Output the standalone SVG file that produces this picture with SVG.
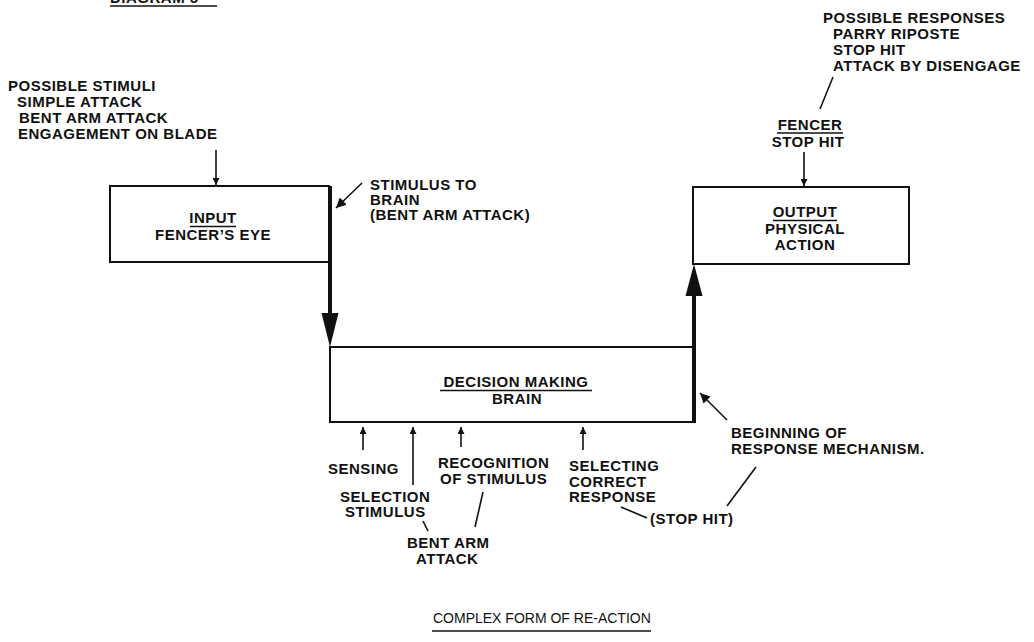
<svg xmlns="http://www.w3.org/2000/svg" width="1034" height="642" viewBox="0 0 1034 642">
<defs>
<style>
text{font-family:"Liberation Sans",Arial,sans-serif;font-weight:bold;font-size:15px;letter-spacing:0.5px;fill:#111}
.c{text-anchor:middle}
.t{font-weight:normal;font-size:14px;letter-spacing:0}
.box{fill:none;stroke:#111;stroke-width:2}
.ln{stroke:#111;stroke-width:1.6;fill:none}
.thick{stroke:#111;stroke-width:4;fill:none}
.ul{stroke:#111;stroke-width:1.6}
</style>
<marker id="ah" viewBox="0 0 10 10" refX="10" refY="5" markerWidth="7" markerHeight="7" markerUnits="userSpaceOnUse" orient="auto">
<path d="M0,0 L10,5 L0,10 z" fill="#111"/>
</marker>
<marker id="ah2" viewBox="0 0 10 10" refX="10" refY="5" markerWidth="10" markerHeight="10" markerUnits="userSpaceOnUse" orient="auto">
<path d="M0,0 L10,5 L0,10 z" fill="#111"/>
</marker>
</defs>
<rect width="1034" height="642" fill="#fff"/>

<g id="diagram-title">
<text x="110" y="3" font-size="18">DIAGRAM 5</text>
<line class="ul" x1="110" y1="6" x2="217" y2="6"/>
</g>

<g id="stimuli">
<text x="8" y="91">POSSIBLE STIMULI</text>
<text x="17" y="107">SIMPLE ATTACK</text>
<text x="19" y="123">BENT ARM ATTACK</text>
<text x="18" y="139">ENGAGEMENT ON BLADE</text>
</g>

<g id="input">
<rect class="box" x="110" y="186" width="219" height="76"/>
<text class="c" x="213" y="223">INPUT</text>
<line class="ul" x1="190" y1="226.5" x2="236" y2="226.5"/>
<text class="c" x="213" y="240">FENCER’S EYE</text>
</g>

<g id="stimulus-label">
<text x="370" y="190">STIMULUS TO</text>
<text x="370" y="205">BRAIN</text>
<text x="370" y="220">(BENT ARM ATTACK)</text>
</g>

<g id="decision">
<rect class="box" x="330" y="347" width="365" height="75"/>
<text class="c" x="516" y="387">DECISION MAKING</text>
<line class="ul" x1="440" y1="390.5" x2="592" y2="390.5"/>
<text class="c" x="517" y="404">BRAIN</text>
</g>

<g id="output">
<rect class="box" x="693" y="187" width="216" height="77"/>
<text class="c" x="805" y="217">OUTPUT</text>
<line class="ul" x1="773" y1="220.5" x2="837" y2="220.5"/>
<text class="c" x="805" y="234">PHYSICAL</text>
<text class="c" x="805" y="250">ACTION</text>
</g>

<g id="fencer">
<text class="c" x="810" y="130">FENCER</text>
<line class="ul" x1="777" y1="133" x2="843" y2="133"/>
<text class="c" x="808" y="147">STOP HIT</text>
</g>

<g id="responses">
<text x="823" y="23">POSSIBLE RESPONSES</text>
<text x="833" y="39">PARRY RIPOSTE</text>
<text x="833" y="55">STOP HIT</text>
<text x="833" y="71">ATTACK BY DISENGAGE</text>
</g>

<g id="bottom-labels">
<text x="328" y="474">SENSING</text>
<text x="340" y="502">SELECTION</text>
<text x="345" y="517">STIMULUS</text>
<text x="407" y="548">BENT ARM</text>
<text x="416" y="564">ATTACK</text>
<text x="438" y="468">RECOGNITION</text>
<text x="440" y="484">OF STIMULUS</text>
<text x="569" y="471">SELECTING</text>
<text x="569" y="487">CORRECT</text>
<text x="569" y="502">RESPONSE</text>
<text x="650" y="524">(STOP HIT)</text>
<text x="731" y="438">BEGINNING OF</text>
<text x="731" y="454">RESPONSE MECHANISM.</text>
</g>

<g id="caption">
<text class="t" x="433" y="623">COMPLEX FORM OF RE-ACTION</text>
<line class="ul" x1="432" y1="631" x2="651" y2="631"/>
</g>

<g id="connectors">
<line class="ln" x1="216" y1="150" x2="216" y2="185" marker-end="url(#ah)"/>
<line class="ln" x1="804" y1="152" x2="804" y2="186" marker-end="url(#ah)"/>
<line class="ln" x1="362" y1="183" x2="336" y2="208" marker-end="url(#ah2)"/>
<line class="thick" x1="330" y1="186" x2="330" y2="318"/>
<path d="M321.5,313 L338.5,313 L330,347 z" fill="#111"/>
<line class="thick" x1="694" y1="422" x2="694" y2="292"/>
<path d="M685.5,296 L702.5,296 L694,264 z" fill="#111"/>
<line class="ln" x1="363" y1="450" x2="363" y2="427" marker-end="url(#ah)"/>
<line class="ln" x1="413" y1="485" x2="413" y2="427" marker-end="url(#ah)"/>
<line class="ln" x1="461" y1="447" x2="461" y2="427" marker-end="url(#ah)"/>
<line class="ln" x1="583" y1="450" x2="583" y2="427" marker-end="url(#ah)"/>
<line class="ln" x1="727" y1="420" x2="700" y2="393" marker-end="url(#ah2)"/>
<line class="ln" x1="833" y1="77" x2="820" y2="109"/>
<line class="ln" x1="423" y1="521" x2="428" y2="531"/>
<line class="ln" x1="483" y1="492" x2="475" y2="527"/>
<line class="ln" x1="621" y1="507" x2="647" y2="518"/>
<line class="ln" x1="756" y1="467" x2="727" y2="506"/>
</g>
</svg>
